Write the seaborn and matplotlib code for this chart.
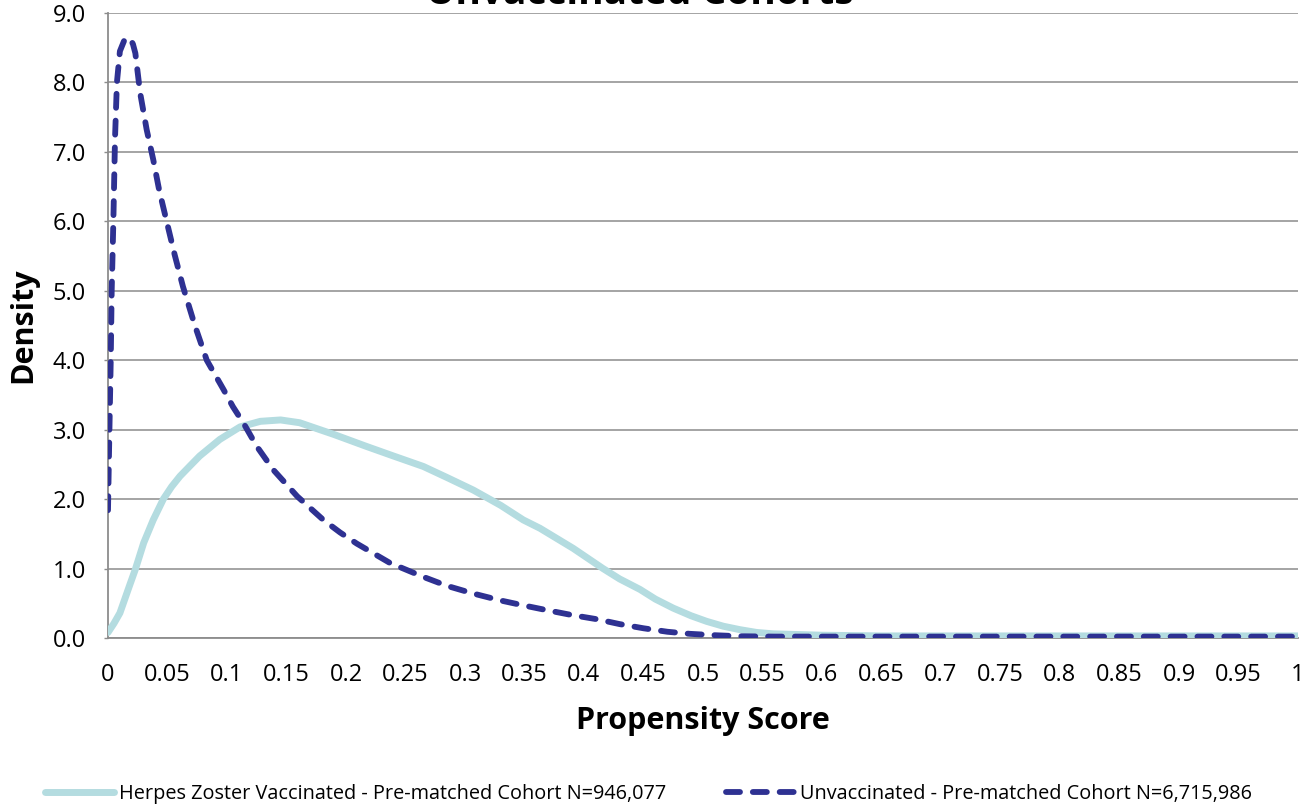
import matplotlib
matplotlib.use("Agg")
import matplotlib.pyplot as plt
import seaborn as sns
import pandas as pd
from matplotlib.lines import Line2D

# Propensity score density curves
vacc_x = [0.0, 0.005, 0.010, 0.018, 0.023, 0.030, 0.038, 0.0465, 0.0535,
          0.0605, 0.069, 0.077, 0.094, 0.111, 0.128, 0.145, 0.161, 0.19,
          0.217, 0.24, 0.265, 0.285, 0.307, 0.33, 0.349, 0.363, 0.391, 0.416,
          0.43, 0.447, 0.46, 0.475, 0.49, 0.503, 0.517, 0.531, 0.545, 0.559,
          0.58, 0.6, 0.65, 0.7, 0.8, 0.9, 1.0]
vacc_y = [0.08, 0.21, 0.36, 0.75, 0.99, 1.37, 1.70, 2.0, 2.18,
          2.33, 2.48, 2.62, 2.86, 3.04, 3.12, 3.14, 3.10, 2.93,
          2.76, 2.62, 2.47, 2.31, 2.13, 1.91, 1.70, 1.58, 1.29, 1.0,
          0.85, 0.70, 0.56, 0.43, 0.32, 0.24, 0.17, 0.12, 0.08, 0.06,
          0.05, 0.04, 0.03, 0.03, 0.03, 0.03, 0.03]

unvacc_x = [0.0, 0.0012, 0.0023, 0.0031, 0.0045, 0.0059, 0.0075, 0.010, 0.014,
            0.0185, 0.021, 0.023, 0.027, 0.0325, 0.038, 0.043, 0.049, 0.056,
            0.063, 0.073, 0.083, 0.097, 0.105, 0.114, 0.125, 0.139, 0.159,
            0.181, 0.195, 0.209, 0.237, 0.265, 0.285, 0.307, 0.33, 0.349,
            0.369, 0.39, 0.411, 0.43, 0.45, 0.47, 0.489, 0.51, 0.531, 0.56,
            0.6, 0.7, 0.8, 0.9, 1.0]
unvacc_y = [1.84, 3.0, 4.0, 5.0, 6.0, 7.2, 8.0, 8.45, 8.62,
            8.64, 8.55, 8.42, 7.85, 7.32, 6.89, 6.45, 6.02, 5.52,
            5.06, 4.5, 4.0, 3.58, 3.33, 3.09, 2.76, 2.42, 2.04,
            1.70, 1.52, 1.36, 1.08, 0.88, 0.75, 0.64, 0.54, 0.47,
            0.40, 0.33, 0.27, 0.20, 0.14, 0.09, 0.06, 0.04, 0.025, 0.02,
            0.02, 0.02, 0.02, 0.02, 0.02]

vacc_label = "Herpes Zoster Vaccinated - Pre-matched Cohort N=946,077"
unvacc_label = "Unvaccinated - Pre-matched Cohort N=6,715,986"
title_text = "Unvaccinated Cohorts"
x_ticks = [round(0.05 * i, 2) for i in range(21)]
x_tick_labels = ["0", "0.05", "0.1", "0.15", "0.2", "0.25", "0.3", "0.35", "0.4",
                 "0.45", "0.5", "0.55", "0.6", "0.65", "0.7", "0.75", "0.8",
                 "0.85", "0.9", "0.95", "1"]
y_ticks = list(range(10))
y_tick_labels = [f"{v:.1f}" for v in y_ticks]

TEAL = "#B4DCE0"
NAVY = "#2E3192"
GRID = "#8C8C8C"
DASH = (0, (2.4, 2.2))

sns.set_theme(style="white")
plt.rcParams["font.family"] = ["Open Sans", "DejaVu Sans"]
plt.rcParams["text.color"] = "black"
plt.rcParams["axes.labelcolor"] = "black"
plt.rcParams["xtick.color"] = "black"
plt.rcParams["ytick.color"] = "black"

fig = plt.figure(figsize=(13.01, 8.06), dpi=100)
ax = fig.add_axes([108 / 1301, 168 / 806, 1190 / 1301, 625 / 806])

df_v = pd.DataFrame({"x": vacc_x, "y": vacc_y})
df_u = pd.DataFrame({"x": unvacc_x, "y": unvacc_y})

sns.lineplot(data=df_v, x="x", y="y", ax=ax, color=TEAL, linewidth=5,
             solid_capstyle="round", solid_joinstyle="round", zorder=3)
sns.lineplot(data=df_u, x="x", y="y", ax=ax, color=NAVY, linewidth=4.2,
             linestyle=DASH, dash_capstyle="round", dash_joinstyle="round",
             zorder=4)

ax.set_xlim(0, 1)
ax.set_ylim(0, 9)
ax.set_xticks(x_ticks)
ax.set_xticklabels(x_tick_labels)
ax.set_yticks(y_ticks)
ax.set_yticklabels(y_tick_labels)
ax.yaxis.grid(True, color=GRID, linewidth=1.1)
ax.xaxis.grid(False)
ax.set_axisbelow(True)
for side in ["top", "right"]:
    ax.spines[side].set_visible(False)
for side in ["left", "bottom"]:
    ax.spines[side].set_color(GRID)
    ax.spines[side].set_linewidth(1.3)

ax.tick_params(axis="x", length=0, pad=18, labelsize=17, labelcolor="black")
ax.tick_params(axis="y", left=True, length=3, width=1, color=GRID, pad=13,
               labelsize=17, labelcolor="black")

ax.set_xlabel("Propensity Score", fontsize=22, fontweight="bold", labelpad=14)
ax.set_ylabel("Density", fontsize=22, fontweight="bold", labelpad=10)

fig.text(0.492, 1 - 3.5 / 806, title_text, ha="center", va="baseline",
         fontsize=28, fontweight="bold")

handles = [
    Line2D([], [], color=TEAL, linewidth=5),
    Line2D([], [], color=NAVY, linewidth=4.2, linestyle=DASH,
           dash_capstyle="round"),
]
fig.legend(handles, [vacc_label, unvacc_label], loc="lower center",
           bbox_to_anchor=(0.4985, -0.02), ncol=2, frameon=False, fontsize=14.3,
           handlelength=3.5, columnspacing=3.0, handletextpad=0.25)

fig.savefig("out.png", dpi=100)
